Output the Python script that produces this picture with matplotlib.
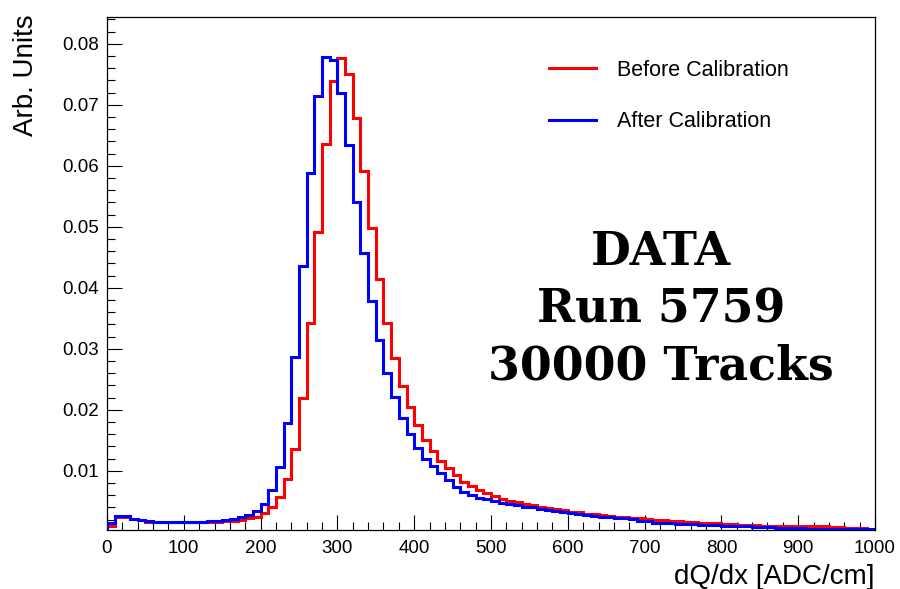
"""dQ/dx distribution before and after calibration (ROOT-style step histograms)."""
import matplotlib
matplotlib.use("Agg")
import matplotlib.pyplot as plt
import matplotlib.ticker as mticker
from matplotlib.lines import Line2D
import numpy as np

# ---- data: 100 bins of 10 ADC/cm from 0 to 1000 ------------------------------

bin_edges = np.arange(0, 1001, 10)

before_calib = [
    0.0009, 0.0024, 0.0024, 0.0021, 0.0019, 0.0016, 0.0016, 0.0016, 0.0016, 0.0016,
    0.0016, 0.0016, 0.0016, 0.0016, 0.0016, 0.0017, 0.0017, 0.0019, 0.0022, 0.0025,
    0.0031, 0.0040, 0.0057, 0.0086, 0.0136, 0.0219, 0.0342, 0.0492, 0.0636, 0.0739,
    0.0777, 0.0750, 0.0679, 0.0591, 0.0498, 0.0415, 0.0343, 0.0285, 0.0239, 0.0204,
    0.0175, 0.0150, 0.0132, 0.0116, 0.0104, 0.0093, 0.0082, 0.0075, 0.0069, 0.0064,
    0.0059, 0.0054, 0.0051, 0.0049, 0.0046, 0.0044, 0.0041, 0.0039, 0.0037, 0.0035,
    0.0033, 0.0032, 0.0030, 0.0029, 0.0027, 0.0026, 0.0025, 0.0024, 0.0023, 0.0022,
    0.0021, 0.0020, 0.0019, 0.0018, 0.0017, 0.0016, 0.0016, 0.0015, 0.0014, 0.0014,
    0.0013, 0.0013, 0.0012, 0.0012, 0.0011, 0.0010, 0.0010, 0.0010, 0.0010, 0.0009,
    0.0009, 0.0009, 0.0009, 0.0009, 0.0008, 0.0008, 0.0007, 0.0006, 0.0006, 0.0005,
]

after_calib = [
    0.0014, 0.0026, 0.0026, 0.0021, 0.0019, 0.0017, 0.0016, 0.0016, 0.0016, 0.0016,
    0.0016, 0.0016, 0.0016, 0.0017, 0.0018, 0.0020, 0.0021, 0.0024, 0.0028, 0.0034,
    0.0046, 0.0069, 0.0107, 0.0179, 0.0287, 0.0435, 0.0588, 0.0714, 0.0779, 0.0774,
    0.0719, 0.0634, 0.0540, 0.0457, 0.0378, 0.0315, 0.0260, 0.0221, 0.0186, 0.0160,
    0.0138, 0.0119, 0.0108, 0.0096, 0.0085, 0.0074, 0.0066, 0.0061, 0.0056, 0.0054,
    0.0051, 0.0048, 0.0046, 0.0044, 0.0041, 0.0040, 0.0038, 0.0036, 0.0034, 0.0033,
    0.0031, 0.0029, 0.0028, 0.0026, 0.0025, 0.0024, 0.0023, 0.0022, 0.0021, 0.0018,
    0.0017, 0.0015, 0.0014, 0.0014, 0.0013, 0.0013, 0.0013, 0.0012, 0.0011, 0.0011,
    0.0010, 0.0010, 0.0010, 0.0009, 0.0008, 0.0008, 0.0008, 0.0007, 0.0006, 0.0006,
    0.0006, 0.0005, 0.0004, 0.0004, 0.0004, 0.0004, 0.0004, 0.0004, 0.0004, 0.0004,
]

series_labels = ["Before Calibration", "After Calibration"]
series_colors = ["#ff0000", "#0000ff"]
info_lines = ["DATA", "Run 5759", "30000 Tracks"]

# ---- figure ------------------------------------------------------------------

plt.rcParams["font.family"] = ["Liberation Sans", "DejaVu Sans"]

W, H = 900, 589
fig = plt.figure(figsize=(W / 100, H / 100), dpi=100)
ax = fig.add_axes([107 / W, 1 - 530 / H, (875 - 107) / W, (530 - 17) / H])

lw = 2.2
ax.stairs(before_calib, bin_edges, color=series_colors[0], linewidth=lw, zorder=3)
ax.stairs(after_calib, bin_edges, color=series_colors[1], linewidth=lw, zorder=4)

ax.set_xlim(0, 1000)
ax.set_ylim(0.0003, 0.0844)

ax.xaxis.set_major_locator(mticker.MultipleLocator(100))
ax.xaxis.set_minor_locator(mticker.MultipleLocator(20))
ax.yaxis.set_major_locator(mticker.MultipleLocator(0.01))
ax.yaxis.set_minor_locator(mticker.MultipleLocator(0.002))
ax.yaxis.set_major_formatter(mticker.FormatStrFormatter("%.2f"))

ax.tick_params(axis="both", which="both", direction="in", top=False, right=False,
               labelsize=13.5, width=0.8, colors="black")
ax.tick_params(axis="x", which="major", length=11, pad=7)
ax.tick_params(axis="x", which="minor", length=5.5)
ax.tick_params(axis="y", which="major", length=11, pad=6)
ax.tick_params(axis="y", which="minor", length=5.5)
for sp in ax.spines.values():
    sp.set_linewidth(0.9)

# axis titles, ROOT-style (right / top aligned)
fig.text(875 / W, 1 - 577 / H, "dQ/dx [ADC/cm]", ha="right", va="center", fontsize=20)
fig.text(26 / W, 1 - 14 / H, "Arb. Units", ha="center", va="top", rotation=90, fontsize=20)

# legend (no frame)
handles = [Line2D([], [], color=c, linewidth=lw) for c in series_colors]
ax.legend(handles, series_labels, loc="upper left",
          bbox_to_anchor=(549 / W, 1 - 60 / H), bbox_transform=fig.transFigure,
          frameon=False, fontsize=15.5, handlelength=2.2, handletextpad=0.95,
          labelspacing=1.4, borderpad=0, borderaxespad=0)

# run info text
baselines_px = [265, 322, 380]
for line, yb in zip(info_lines, baselines_px):
    fig.text(661 / W, 1 - yb / H, line, ha="center", va="baseline",
             family="DejaVu Serif", weight="bold", fontsize=33)

fig.savefig("out.png", dpi=100)
